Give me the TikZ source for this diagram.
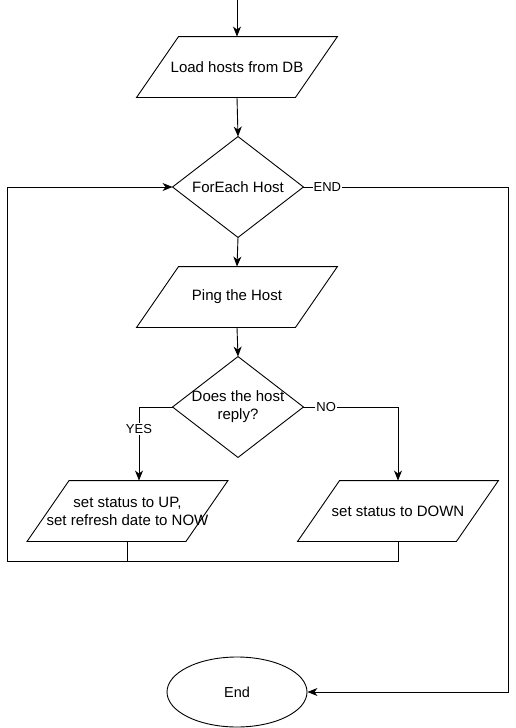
\documentclass[tikz,border=0pt]{standalone}
\usepackage{fontspec}
\setmainfont{Liberation Sans}
\usetikzlibrary{arrows.meta,shapes.geometric}
\begin{document}
\begin{tikzpicture}[x=1pt,y=-1pt,
  line width=0.9pt,
  txt/.style={font=\fontsize{15}{18}\selectfont, align=center},
  parabox/.style={txt, rectangle, minimum width=200pt, minimum height=60pt, inner sep=0pt},
  diabox/.style={txt, rectangle, minimum width=130pt, minimum height=100pt, inner sep=0pt},
  endbox/.style={draw, ellipse, minimum width=140pt, minimum height=70pt, inner sep=0pt,
    font=\fontsize{14.5}{17}\selectfont},
  arr/.style={-{Stealth[length=10pt,width=8pt,inset=3pt]}},
  lbl/.style={fill=white, inner sep=1pt, font=\fontsize{13}{15}\selectfont}
]
\useasboundingbox (0,0) rectangle (516,728);

% nodes
\coordinate (start) at (237,0);
\node[parabox] (load) at (237,67) {Load hosts from DB};
\node[diabox] (fe) at (238,187) {ForEach Host};
\node[parabox] (ping) at (237,297) {Ping the Host};
\node[diabox] (dq) at (238,407) {Does the host\\reply?};
\node[parabox] (up) at (127.5,511) {set status to UP,\\set refresh date to NOW};
\node[parabox] (down) at (398,511) {set status to DOWN};
\node[endbox] (endn) at (237,692) {End};
\coordinate (rt) at (508,187);
\coordinate (lp) at (7,561);
\coordinate (upin) at ([xshift=11.5pt]up.north);

% parallelograms
\foreach \n in {load,ping,up,down}{
  \draw ([xshift=42pt]\n.north west) -- (\n.north east) -- ([xshift=-42pt]\n.south east) -- (\n.south west) -- cycle;
}
% diamonds
\foreach \n in {fe,dq}{
  \draw (\n.north) -- (\n.east) -- (\n.south) -- (\n.west) -- cycle;
}

% connectors
\draw[arr] (start) -- (load.north);
\draw[arr] (load.south) -- (fe.north);
\draw[arr] (fe.south) -- (ping.north);
\draw[arr] (ping.south) -- (dq.north);
\draw[arr] (dq.west) -| node[lbl, pos=0.65] {YES} (upin);
\draw[arr] (dq.east) -| node[lbl, pos=0.12] {NO} (down.north);
\draw[arr] (fe.east) -- node[lbl, pos=0.117] {END} (rt) |- (endn.east);
\draw (up.south) -- (up.south |- lp);
\draw[arr] (down.south) |- (lp) |- (fe.west);
\end{tikzpicture}
\end{document}
